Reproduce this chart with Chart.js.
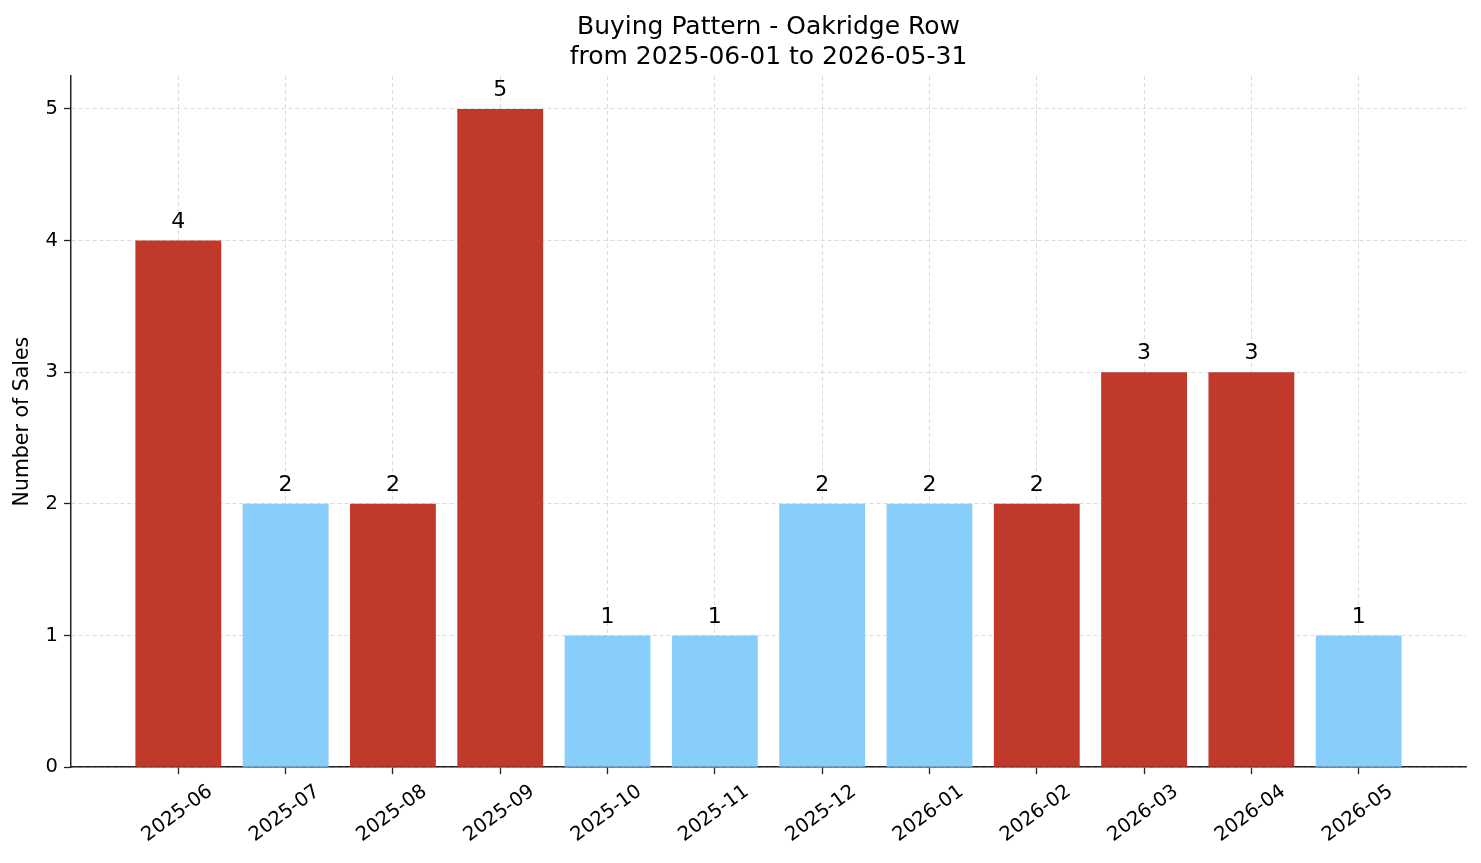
<!DOCTYPE html>
<html><head><meta charset="utf-8">
<script src="https://cdn.jsdelivr.net/npm/chart.js@4/dist/chart.umd.min.js"></script>
<style>html,body{margin:0;padding:0;background:#fff}#wrap{width:1481px;height:863px}</style>
</head><body><div id="wrap"><canvas id="c" width="1481" height="863"></canvas></div>
<script>
const months = ["2025-06","2025-07","2025-08","2025-09","2025-10","2025-11","2025-12","2026-01","2026-02","2026-03","2026-04","2026-05"];
const sales = [4,2,2,5,1,1,2,2,2,3,3,1];
const barColors = ["#C0392B","#87CEFA","#C0392B","#C0392B","#87CEFA","#87CEFA","#87CEFA","#87CEFA","#C0392B","#C0392B","#C0392B","#87CEFA"];
const yTicks = [0,1,2,3,4,5];

Chart.defaults.font.family = "'DejaVu Sans', sans-serif";
Chart.defaults.color = "#000";

const valueLabels = {
  id: 'valueLabels',
  afterDatasetsDraw(chart) {
    const ctx = chart.ctx;
    const meta = chart.getDatasetMeta(0);
    ctx.save();
    ctx.font = "22px 'DejaVu Sans', sans-serif";
    ctx.fillStyle = "#000";
    ctx.textAlign = "center";
    ctx.textBaseline = "alphabetic";
    meta.data.forEach((el, i) => {
      ctx.fillText(String(sales[i]), el.x, el.y - 13);
    });
    ctx.restore();
  }
};

const gridOpts = {
  offset: false,
  color: 'rgba(195,195,195,0.75)',
  lineWidth: 0.8,
  drawTicks: true,
  tickLength: 7,
  tickColor: '#222',
  tickWidth: 1.3,
  tickBorderDash: []
};

new Chart(document.getElementById('c'), {
  type: 'bar',
  data: {
    datasets: [{
      data: sales.map((v, i) => ({x: i, y: v})),
      backgroundColor: barColors,
      borderWidth: 0,
      barPercentage: 0.8,
      categoryPercentage: 1.0
    }]
  },
  plugins: [valueLabels],
  options: {
    responsive: false,
    animation: false,
    layout: {padding: {left: 6, right: 15, top: 12, bottom: 10}},
    plugins: {
      legend: {display: false},
      tooltip: {enabled: false},
      title: {
        display: true,
        fullSize: false,
        text: ["Buying Pattern - Oakridge Row", "from 2025-06-01 to 2026-05-31"],
        font: {size: 25, weight: 'normal'},
        color: '#000',
        padding: {top: 0, bottom: 4},
        lineHeight: 1.12
      }
    },
    scales: {
      x: {
        type: 'linear',
        offset: false,
        min: -1,
        max: 12,
        z: 1,
        afterBuildTicks(scale) {
          scale.ticks = months.map((m, i) => ({value: i}));
        },
        ticks: {
          autoSkip: false,
          minRotation: 36,
          maxRotation: 36,
          font: {size: 19.5},
          color: '#000',
          padding: 6,
          labelOffset: 32,
          callback: (v) => months[v] ?? ''
        },
        grid: gridOpts,
        border: {display: true, color: '#222', width: 1.5, dash: [4, 3]}
      },
      y: {
        min: 0,
        max: 5.25,
        z: 1,
        afterBuildTicks(scale) {
          scale.ticks = yTicks.map(v => ({value: v}));
        },
        ticks: {font: {size: 19.5}, color: '#000', padding: 6},
        title: {display: true, text: 'Number of Sales', font: {size: 20.5}, color: '#000', padding: {bottom: 5}},
        grid: gridOpts,
        border: {display: true, color: '#222', width: 1.5, dash: [4, 3]}
      }
    }
  }
});
</script></body></html>
